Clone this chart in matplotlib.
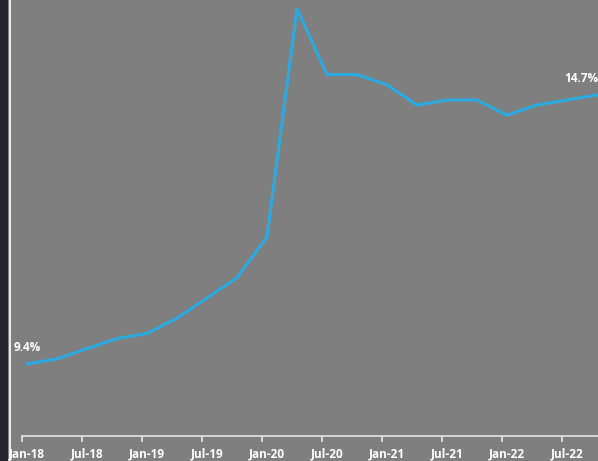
import matplotlib
matplotlib.use("Agg")
import matplotlib.pyplot as plt
import matplotlib.transforms as mtransforms
from matplotlib.patches import Rectangle
from matplotlib.lines import Line2D

# quarterly series, Jan-18 .. Oct-22 (%)
quarters = ["Jan-18", "Apr-18", "Jul-18", "Oct-18", "Jan-19", "Apr-19", "Jul-19", "Oct-19",
            "Jan-20", "Apr-20", "Jul-20", "Oct-20", "Jan-21", "Apr-21", "Jul-21", "Oct-21",
            "Jan-22", "Apr-22", "Jul-22", "Oct-22"]
values = [9.4, 9.5, 9.7, 9.9, 10.0, 10.3, 10.7, 11.1,
          11.9, 16.4, 15.1, 15.1, 14.9, 14.5, 14.6, 14.6,
          14.3, 14.5, 14.6, 14.7]
tick_labels = ["Jan-18", "Jul-18", "Jan-19", "Jul-19", "Jan-20", "Jul-20",
               "Jan-21", "Jul-21", "Jan-22", "Jul-22"]

bg = "#7f7f7f"
line_col = "#29abe2"
fonts = ["Open Sans", "DejaVu Sans"]

fig = plt.figure(figsize=(5.98, 4.61), dpi=100, facecolor=bg)

# dark strip + white rule on the left edge
fig.patches.append(Rectangle((0, 0), 8 / 598, 1, transform=fig.transFigure,
                             facecolor="#23272c", edgecolor="none"))
fig.lines.append(Line2D([9.5 / 598, 9.5 / 598], [0, 1], transform=fig.transFigure,
                        color="white", lw=1.2))

ax = fig.add_axes([10 / 598, 25 / 461, 588 / 598, 436 / 461])
ax.set_facecolor(bg)

x = [i * 3 + 0.5 for i in range(len(values))]
ax.plot(x, values, color=line_col, lw=2.2, solid_joinstyle="miter")

ax.set_xlim(-1.2, 57.6)
ax.set_ylim(7.98, 16.57)

ax.set_xticks(range(0, 60, 6))
ax.set_xticklabels(tick_labels)
ax.set_yticks([])
for s in ["left", "right", "top"]:
    ax.spines[s].set_visible(False)
ax.spines["bottom"].set_color("#e6e6e6")
ax.spines["bottom"].set_linewidth(1.2)
ax.spines["bottom"].set_bounds(0, 57.6)
ax.tick_params(axis="x", colors="#e6e6e6", length=4, width=1.2, pad=4,
               labelsize=8.5, labelcolor="white")
shift = mtransforms.ScaledTranslation(5 / 100, 0, fig.dpi_scale_trans)
for lbl in ax.get_xticklabels():
    lbl.set_fontweight("bold")
    lbl.set_family(fonts)
    lbl.set_transform(lbl.get_transform() + shift)

ax.text(x[0], values[0] + 0.2, "9.4%", color="white", fontsize=8.5, fontweight="bold",
        ha="center", va="bottom", family=fonts)
ax.text(x[-1] + 0.1, values[-1] + 0.2, "14.7%", color="white", fontsize=8.5, fontweight="bold",
        ha="right", va="bottom", family=fonts)

fig.savefig("out.png", dpi=100, facecolor=bg)
